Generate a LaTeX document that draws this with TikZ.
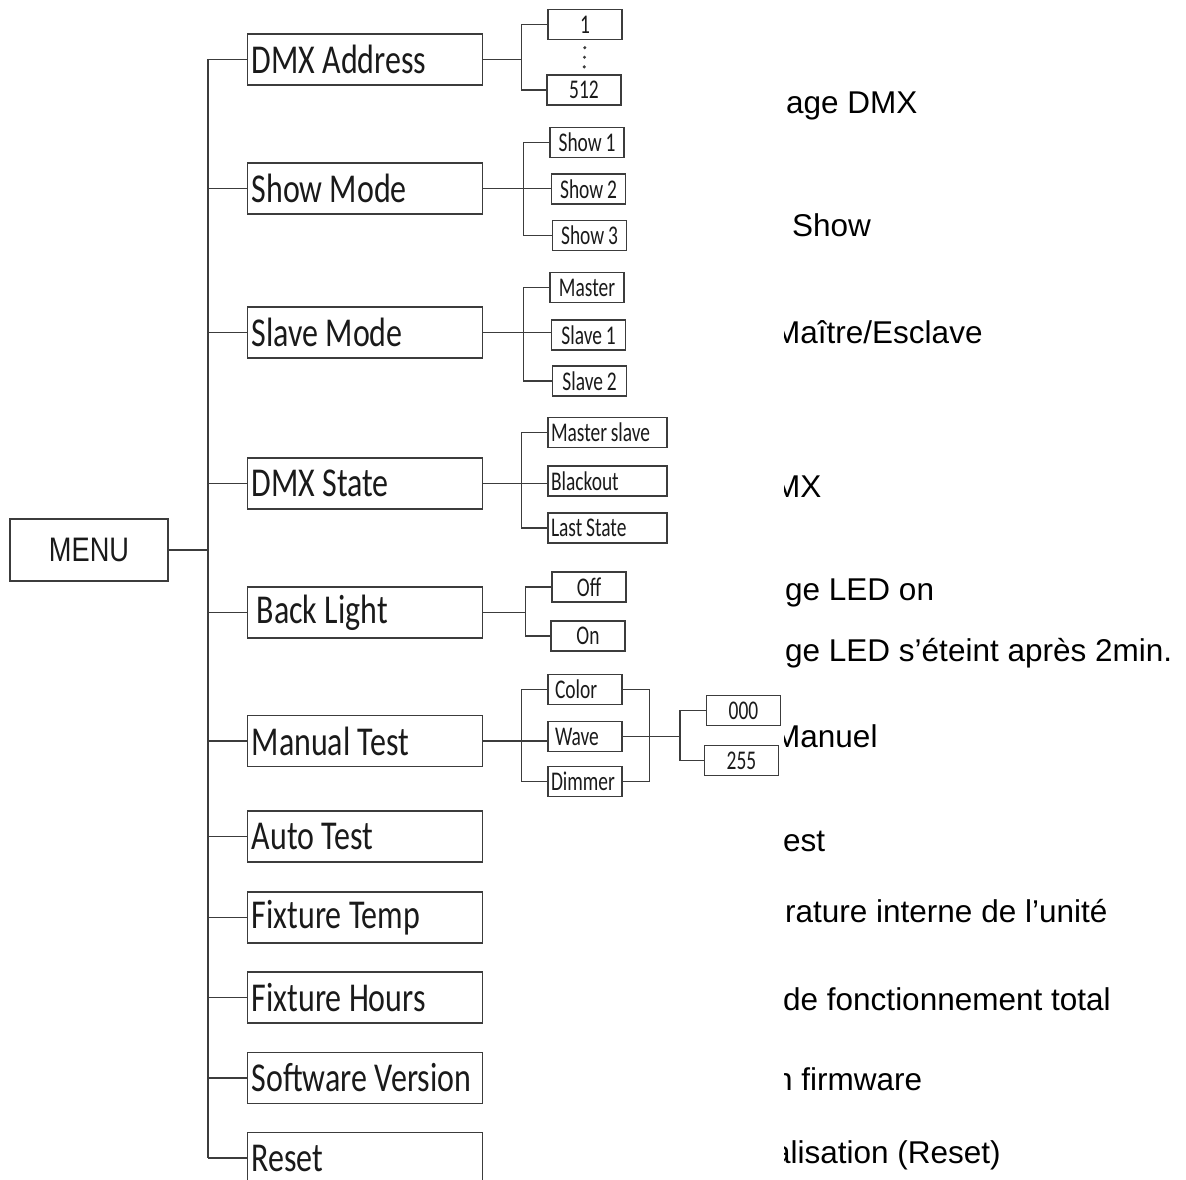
\documentclass[tikz,border=0pt]{standalone}
\usepackage{fontspec}
\setmainfont{Liberation Sans}
\newfontfamily\boxfont[FakeStretch=0.78,WordSpace=1.0]{Carlito}
\newfontfamily\subfont[FakeStretch=0.72,WordSpace=0.85]{Carlito}
\newfontfamily\menufont[FakeStretch=0.8]{Liberation Sans}
\usepackage{tikz}
\usetikzlibrary{positioning,calc}
\setlength{\parindent}{0pt}
\newcommand\natspace{\spaceskip 0pt\xspaceskip 0pt\relax}

\definecolor{linegray}{HTML}{3C3C3C}
\definecolor{inkgray}{HTML}{1A1A1A}

\tikzset{
    menubox/.style={draw=linegray, line width=1.4pt, minimum width=158pt, minimum height=62pt,
        text=inkgray, font=\menufont\fontsize{34}{38}\selectfont},
    mainbox/.style={draw=linegray, line width=1.4pt, anchor=west, text width=227pt, inner xsep=4pt,
        minimum height=51pt, text=inkgray, font=\boxfont\fontsize{41}{46}\selectfont,
        execute at begin node=\natspace},
    subbox/.style={draw=linegray, line width=1.3pt, minimum width=74pt, minimum height=30pt,
        inner sep=1pt, text=inkgray, font=\subfont\fontsize{27}{30}\selectfont},
    subleft/.style={subbox, text width=68pt, inner xsep=3pt, execute at begin node=\natspace},
    widebox/.style={subleft, text width=113pt},
    link/.style={draw=linegray, line width=1.3pt},
    note/.style={anchor=base west, inner sep=0pt, text=black, font=\fontsize{31.5}{36}\selectfont}
}

\begin{document}
\begin{tikzpicture}[x=1pt,y=-1pt]
    \useasboundingbox (0,0) rectangle (1186,1180);
    \clip (0,0) rectangle (1186,1180);
    \coordinate (trunk) at (208,0);

    % menu and main entries
    \node[menubox] (menu) at (89,550) {MENU};
    \node[mainbox] (dmxaddr) at (247,59.5) {DMX Address};
    \node[mainbox] (showmode) at (247,188.5) {Show Mode};
    \node[mainbox] (slavemode) at (247,332.5) {Slave Mode};
    \node[mainbox] (dmxstate) at (247,483.5) {DMX State};
    \node[mainbox] (backlight) at (247,612.5) {\hspace*{5pt}Back Light};
    \node[mainbox] (manual) at (247,741) {Manual Test};
    \foreach \nm/\y/\txt in {autotest/836.5/Auto Test, fixtemp/917.5/Fixture Temp,
            fixhours/997.5/Fixture Hours, software/1078/Software Version, reset/1158/Reset} {
        \node[mainbox] (\nm) at (247,\y) {\txt};
        \draw[link] (\nm.west) -- (\nm.west -| trunk);
    }
    \draw[link] (dmxaddr.west) -- (dmxaddr.west -| trunk) -- (reset.west -| trunk);
    \draw[link] (menu.east) -- (menu.east -| trunk);
    \foreach \nm in {showmode,slavemode,dmxstate,backlight,manual}
        \draw[link] (\nm.west) -- (\nm.west -| trunk);

    % address range
    \node[subbox] (addr1) at (585,24.5) {1};
    \node[subbox] (addr512) at (584,90) {512};
    \draw[link] (addr1.west) -- ++(-26,0) coordinate (addrfork) |- (addr512.west);
    \draw[link] (dmxaddr.east) -- (dmxaddr.east -| addrfork);
    \foreach \p in {0.22,0.5,0.78}
        \fill[linegray] ($(addr1.south)!\p!(addr512.north)$) circle (1.7pt);

    % shows
    \node[subbox] (show1) at (587,142.5) {Show 1};
    \node[subbox] (show2) at (588.5,189) {Show 2};
    \node[subbox] (show3) at (589.5,235.5) {Show 3};
    \draw[link] (show1.west) -- ++(-26,0) |- (show3.west);
    \draw[link] (showmode.east) -- (showmode.east -| show2.west);

    % master / slave
    \node[subbox] (master) at (587,287.5) {Master};
    \node[subbox] (slave1) at (588.5,335) {Slave 1};
    \node[subbox] (slave2) at (589.5,381) {Slave 2};
    \draw[link] (master.west) -- ++(-26,0) |- (slave2.west);
    \draw[link] (slavemode.east) -- (slavemode.east -| slave1.west);

    % dmx state
    \node[widebox] (mslave) at (607.5,432.5) {Master slave};
    \node[widebox] (blackout) at (607.5,481) {Blackout};
    \node[widebox] (laststate) at (607.5,528) {Last State};
    \draw[link] (mslave.west) -- ++(-26,0) |- (laststate.west);
    \draw[link] (dmxstate.east) -- (dmxstate.east -| blackout.west);

    % back light
    \node[subbox] (lightoff) at (589,587) {Off};
    \node[subbox] (lighton) at (588,636) {On};
    \draw[link] (lightoff.west) -- ++(-26,0) coordinate (lightfork) |- (lighton.west);
    \draw[link] (backlight.east) -- (backlight.east -| lightfork);

    % manual test
    \node[subleft] (color) at (585,689.5) {\hspace*{4pt}Color};
    \node[subleft] (wave) at (585,736.5) {\hspace*{4pt}Wave};
    \node[subleft] (dimmer) at (585,781.5) {Dimmer};
    \draw[link] (color.west) -- ++(-26,0) |- (dimmer.west);
    \draw[link] (manual.east) -- (manual.east -| wave.west);
    \draw[link] (color.east) -- ++(27,0) |- (dimmer.east);
    \node[subbox] (val000) at (743.5,710.5) {000};
    \node[subbox] (val255) at (741.5,760.5) {255};
    \draw[link] (val000.west) -- ++(-26,0) coordinate (valfork) |- (val255.west);
    \draw[link] (wave.east) -- (wave.east -| valfork);

    % notes, cut at the left
    \begin{scope}
        \clip (784,0) rectangle (1186,1180);
        \foreach \x/\y/\txt [count=\i] in {786/114/age DMX, 792/236/Show, 774/343/{Maître/Esclave},
                774/497/MX, 785/600/ge LED on, 785/661/{ge LED s’éteint après 2min.},
                774/747/Manuel, 783/851/est, 785/922/{rature interne de l’unité},
                783/1010/de fonctionnement total, 775/1090/n firmware, 773/1163/alisation (Reset)}
            \node[note] (note\i) at (\x,\y) {\txt};
    \end{scope}
\end{tikzpicture}
\end{document}
